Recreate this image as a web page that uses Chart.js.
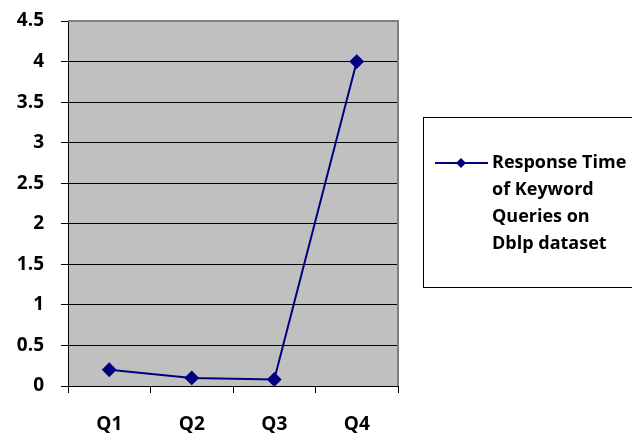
<!DOCTYPE html>
<html>
<head>
<meta charset="utf-8">
<script src="https://cdn.jsdelivr.net/npm/chart.js@4"></script>
<style>
  html, body { margin: 0; padding: 0; background: #fff; }
  #wrap { width: 632px; height: 434px; }
</style>
</head>
<body>
<div id="wrap"><canvas id="chart" width="632" height="434"></canvas></div>
<script>
// data
const categories = ['Q1', 'Q2', 'Q3', 'Q4'];
const responseTimes = [0.2, 0.1, 0.08, 4];
const seriesLabel = ['Response Time', 'of Keyword', 'Queries on', 'Dblp dataset'];

const fontFamily = '"Open Sans", "Liberation Sans", sans-serif';

// grey plot area and right/top frame, like the old Excel look
const plotBackground = {
    id: 'plotBackground',
    beforeDraw(chart) {
        const { ctx, chartArea: a } = chart;
        ctx.save();
        ctx.fillStyle = '#c0c0c0';
        ctx.fillRect(a.left, a.top, a.right - a.left, a.bottom - a.top);
        ctx.restore();
    },
    afterDatasetsDraw(chart) {
        const { ctx, chartArea: a } = chart;
        ctx.save();
        ctx.strokeStyle = '#808080';
        ctx.lineWidth = 2;
        ctx.beginPath();
        ctx.moveTo(a.left, a.top);
        ctx.lineTo(a.right, a.top);
        ctx.lineTo(a.right, a.bottom);
        ctx.stroke();
        ctx.restore();
    }
};

// boxed legend on the right with the label wrapped over several lines
const boxLegend = {
    id: 'boxLegend',
    afterDraw(chart) {
        const ctx = chart.ctx;
        const ds = chart.data.datasets[0];
        ctx.save();
        ctx.strokeStyle = '#000';
        ctx.lineWidth = 1;
        ctx.strokeRect(423.5, 117.5, 240, 170);

        const y0 = 163;
        ctx.strokeStyle = ds.borderColor;
        ctx.lineWidth = 2;
        ctx.beginPath();
        ctx.moveTo(435, y0);
        ctx.lineTo(488, y0);
        ctx.stroke();

        ctx.fillStyle = ds.pointBackgroundColor;
        ctx.beginPath();
        ctx.moveTo(461, y0 - 5);
        ctx.lineTo(466, y0);
        ctx.lineTo(461, y0 + 5);
        ctx.lineTo(456, y0);
        ctx.closePath();
        ctx.fill();

        ctx.fillStyle = '#000';
        ctx.font = 'bold 18px ' + fontFamily;
        ctx.textBaseline = 'middle';
        ctx.textAlign = 'left';
        ds.label.forEach((line, i) => {
            ctx.fillText(line, 492, y0 + i * 27);
        });
        ctx.restore();
    }
};

const ctx = document.getElementById('chart').getContext('2d');

new Chart(ctx, {
    type: 'line',
    data: {
        labels: categories,
        datasets: [{
            label: seriesLabel,
            data: responseTimes,
            borderColor: '#000080',
            backgroundColor: '#000080',
            pointBackgroundColor: '#000080',
            pointBorderColor: '#000080',
            pointStyle: 'rectRot',
            pointRadius: 6,
            borderWidth: 2,
            tension: 0,
            fill: false
        }]
    },
    options: {
        responsive: false,
        animation: false,
        layout: {
            autoPadding: false,
            padding: { top: 21, right: 234, bottom: 0, left: 0 }
        },
        plugins: {
            legend: { display: false },
            tooltip: { enabled: false }
        },
        scales: {
            x: {
                offset: true,
                grid: {
                    drawOnChartArea: false,
                    color: '#000',
                    tickLength: 7,
                    offset: true
                },
                border: { color: '#000', width: 1 },
                ticks: {
                    color: '#000',
                    padding: 20,
                    font: { family: fontFamily, size: 19, weight: 'bold' }
                },
                afterFit(scale) {
                    scale.height = 48;
                    scale.paddingLeft = 0;
                    scale.paddingRight = 0;
                }
            },
            y: {
                min: 0,
                max: 4.5,
                grid: {
                    color: '#000',
                    tickLength: 7
                },
                border: { color: '#000', width: 1 },
                ticks: {
                    stepSize: 0.5,
                    color: '#000',
                    padding: 17,
                    font: { family: fontFamily, size: 19, weight: 'bold' },
                    callback: (v) => String(v)
                },
                afterFit(scale) {
                    scale.width = 68;
                    scale.paddingTop = 0;
                    scale.paddingBottom = 0;
                }
            }
        }
    },
    plugins: [plotBackground, boxLegend]
});
</script>
</body>
</html>
